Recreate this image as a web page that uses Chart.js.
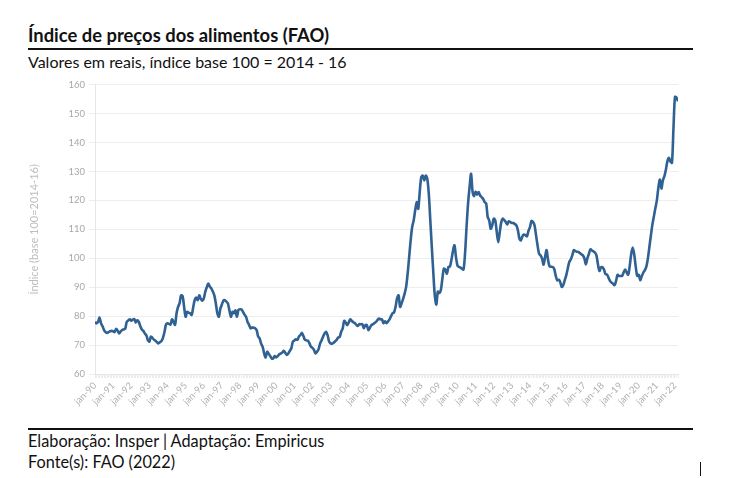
<!DOCTYPE html>
<html>
<head>
<meta charset="utf-8">
<script src="https://cdn.jsdelivr.net/npm/chart.js@4"></script>
<style>
  body { margin:0; background:#fff; font-family: Lato, sans-serif; width:743px; height:478px; position:relative; overflow:hidden; }
  .title { position:absolute; left:28px; top:24px; font-size:18.4px; font-weight:bold; color:#111; }
  .rule { position:absolute; left:28px; width:665px; height:2px; background:#111; }
  .sub { position:absolute; left:28px; top:52px; font-size:16px; color:#111; }
  .foot { position:absolute; left:28px; font-size:16.3px; color:#111; }
  #wrap { position:absolute; left:28px; top:75px; width:665px; height:350px; }
</style>
</head>
<body>
<div class="title">Índice de preços dos alimentos (FAO)</div>
<div class="rule" style="top:48px"></div>
<div class="sub">Valores em reais, índice base 100 = 2014 - 16</div>
<div id="wrap"><canvas id="chart"></canvas></div>
<div class="rule" style="top:428px"></div>
<div class="foot" style="top:431px">Elaboração: Insper | Adaptação: Empiricus</div>
<div class="foot" style="top:452px">Fonte(s): FAO (2022)</div>
<div style="position:absolute; left:700px; top:462px; width:1px; height:14px; background:#111"></div>

<script>
// Tick labels (one per January)
const tickLabels = ['jan-90','jan-91','jan-92','jan-93','jan-94','jan-95','jan-96','jan-97','jan-98','jan-99',
  'jan-00','jan-01','jan-02','jan-03','jan-04','jan-05','jan-06','jan-07','jan-08','jan-09','jan-10',
  'jan-11','jan-12','jan-13','jan-14','jan-15','jan-16','jan-17','jan-18','jan-19','jan-20','jan-21','jan-22'];

// Monthly index values, jan-90 .. mar-22
const values = [
  78, 77.5, 78, 79.5, 77.5, 76.5, 75.2, 74.5, 74.2, 74.5, 74.8, 74.9,           // 1990
  74.8, 74.5, 75.6, 75, 74, 74.7, 75.2, 75.4, 75.6, 78, 78.5, 78.9,             // 1991
  78.4, 78.8, 79, 77.8, 78.6, 78, 76.5, 75.4, 74.9, 74, 73.4, 71.7,             // 1992
  71.2, 72.9, 72.5, 71.9, 71.5, 71, 70.6, 71, 71.4, 72.5, 74.5, 77.1,           // 1993
  77.5, 77.3, 77.1, 78.9, 78, 77, 81, 83.2, 84.5, 87.2, 86.9, 83.2,             // 1994
  79.8, 81.5, 81.2, 81, 80.4, 83, 85.5, 86.4, 85.5, 87.2, 86, 85.3,             // 1995
  86.1, 88.4, 90, 91.3, 90.2, 89.6, 88.5, 87.2, 84.4, 81, 79.8, 82.6,           // 1996
  84, 85.3, 85.5, 85, 84.4, 82, 79.8, 81.5, 81, 82, 79.8, 82.2,                 // 1997
  82.4, 82.3, 81.5, 80.5, 79.8, 78, 77, 75.8, 76.1, 76, 75.8, 75.2,             // 1998
  73, 72.3, 70.5, 69.4, 67.1, 65.7, 67.7, 67, 66.2, 65.4, 65.4, 66.2,           // 1999
  65.7, 66.2, 66.8, 67.1, 67.4, 68, 67.3, 66.6, 67.1, 68, 68.9, 71.2,           // 2000
  71.6, 72, 71.8, 72.9, 73.5, 74.2, 73.1, 71.8, 71.6, 71.5, 70.6, 69.4,         // 2001
  69, 68.3, 67.1, 67.7, 68.5, 70.5, 71.6, 72.9, 74, 74.6, 73.4, 71.2,           // 2002
  70.6, 70.5, 70.8, 71.3, 71.8, 72.6, 72.8, 74.6, 75.8, 78.4, 77.8, 76.9,       // 2003
  77.8, 78.9, 78.4, 77.9, 77.6, 77, 76.6, 77.2, 77.2, 77.2, 75.8, 76.9,         // 2004
  76.9, 75.2, 76, 76.9, 77.2, 77.6, 78, 78.6, 79.2, 78.9, 78.9, 77.6,           // 2005
  78.2, 77.6, 78.2, 78.9, 80, 81, 81.3, 83.2, 86.2, 87.2, 83.2, 84.4,           // 2006
  86, 87.8, 90.1, 94.7, 100.4, 106.2, 110.8, 113.1, 116.6, 119.4, 117.1, 122.9, // 2007
  128, 128.6, 126.9, 128.6, 127.5, 122.3, 113.1, 103.9, 95, 87, 84, 88.5,       // 2008
  88, 89, 93, 96.4, 96, 94.7, 97, 97.2, 99.5, 102.5, 104.5, 100.4,              // 2009
  97.5, 97, 96.8, 96.4, 96.1, 101.6, 110.8, 118.9, 124.6, 129.2, 123, 121.5,    // 2010
  123, 122, 122.9, 121.7, 121.1, 120.5, 119.4, 118.9, 114.3, 113.1, 110.2, 111.4, // 2011
  113.7, 113.1, 109.1, 105.6, 109.1, 112.5, 113.7, 113.2, 112.5, 111.7, 112.8, 112.5, // 2012
  112.2, 112.2, 111.8, 111.4, 109.7, 106.8, 106.2, 107.6, 108.2, 108, 107.6, 109.5, // 2013
  110.8, 112.9, 112.5, 111.4, 108, 104.5, 101.6, 101, 99.9, 97.8, 100.5, 102.8, // 2014
  99.3, 97.2, 97.1, 97, 96.4, 94.1, 92.4, 92.6, 91.8, 90.1, 90.7, 92.4,         // 2015
  94.1, 96.4, 98.7, 99.6, 101, 102.8, 102.5, 102.3, 102.2, 101.8, 101.4, 101,   // 2016
  100, 97.9, 100, 101.5, 103.1, 102.7, 102.4, 102, 101, 97.9, 95.6, 96.9,       // 2017
  96.9, 96.1, 94.5, 94.4, 93.3, 92.2, 91.6, 91.2, 90.7, 92.2, 94.3, 93.9,       // 2018
  93.9, 93.9, 95.1, 96.1, 95.1, 94.3, 97.2, 101.4, 103.7, 101.4, 97.2, 93.9,    // 2019
  94.3, 92.4, 93.8, 95, 95.8, 97, 99.7, 103.7, 107.7, 111.5, 114.4, 117.3,      // 2020
  120, 124.4, 127.2, 124.1, 127, 128.4, 130.7, 133.6, 134.7, 133.4, 133, 145,   // 2021
  155.8, 155.5, 154.3                                                           // 2022
];

const yTicks = [60, 70, 80, 90, 100, 110, 120, 130, 140, 150, 160];

// Chart
const ctx = document.getElementById('chart').getContext('2d');
new Chart(ctx, {
  type: 'line',
  data: {
    datasets: [{
      label: 'Índice',
      data: values.map((v, i) => ({ x: i, y: v })),
      borderColor: '#2f6192',
      borderWidth: 2.6,
      pointRadius: 0,
      tension: 0.3,
      fill: false
    }]
  },
  options: {
    responsive: true,
    maintainAspectRatio: false,
    animation: false,
    layout: { padding: { top: 4, right: 15, left: 0, bottom: 0 } },
    plugins: { legend: { display: false }, tooltip: { enabled: false } },
    scales: {
      x: {
        type: 'linear',
        min: 0,
        max: values.length - 1,
        afterFit: s => { s.height = 51; },
        afterBuildTicks: s => { s.ticks = values.map((v, i) => ({ value: i })); },
        ticks: {
          autoSkip: false,
          maxRotation: 45,
          minRotation: 45,
          color: '#b0b0b0',
          font: { family: 'Lato', size: 9.5 },
          padding: 2,
          callback: v => (v % 12 === 0 ? tickLabels[v / 12] : '')
        },
        grid: { drawOnChartArea: false, color: '#ececec', tickLength: 4 },
        border: { color: '#e6e6e6' }
      },
      y: {
        min: 60,
        max: 160,
        afterFit: s => { s.width = 67; },
        afterBuildTicks: s => { s.ticks = yTicks.map(v => ({ value: v })); },
        ticks: { color: '#a8a8a8', font: { family: 'Lato', size: 9.5 }, padding: 4 },
        grid: { color: '#eeeeee', tickLength: 6 },
        border: { color: '#e6e6e6' },
        title: {
          display: true,
          text: 'Índice (base 100=2014-16)',
          color: '#bdbdbd',
          font: { family: 'Lato', size: 11 },
          padding: { top: 0, bottom: 6 }
        }
      }
    }
  }
});
</script>
</body>
</html>
